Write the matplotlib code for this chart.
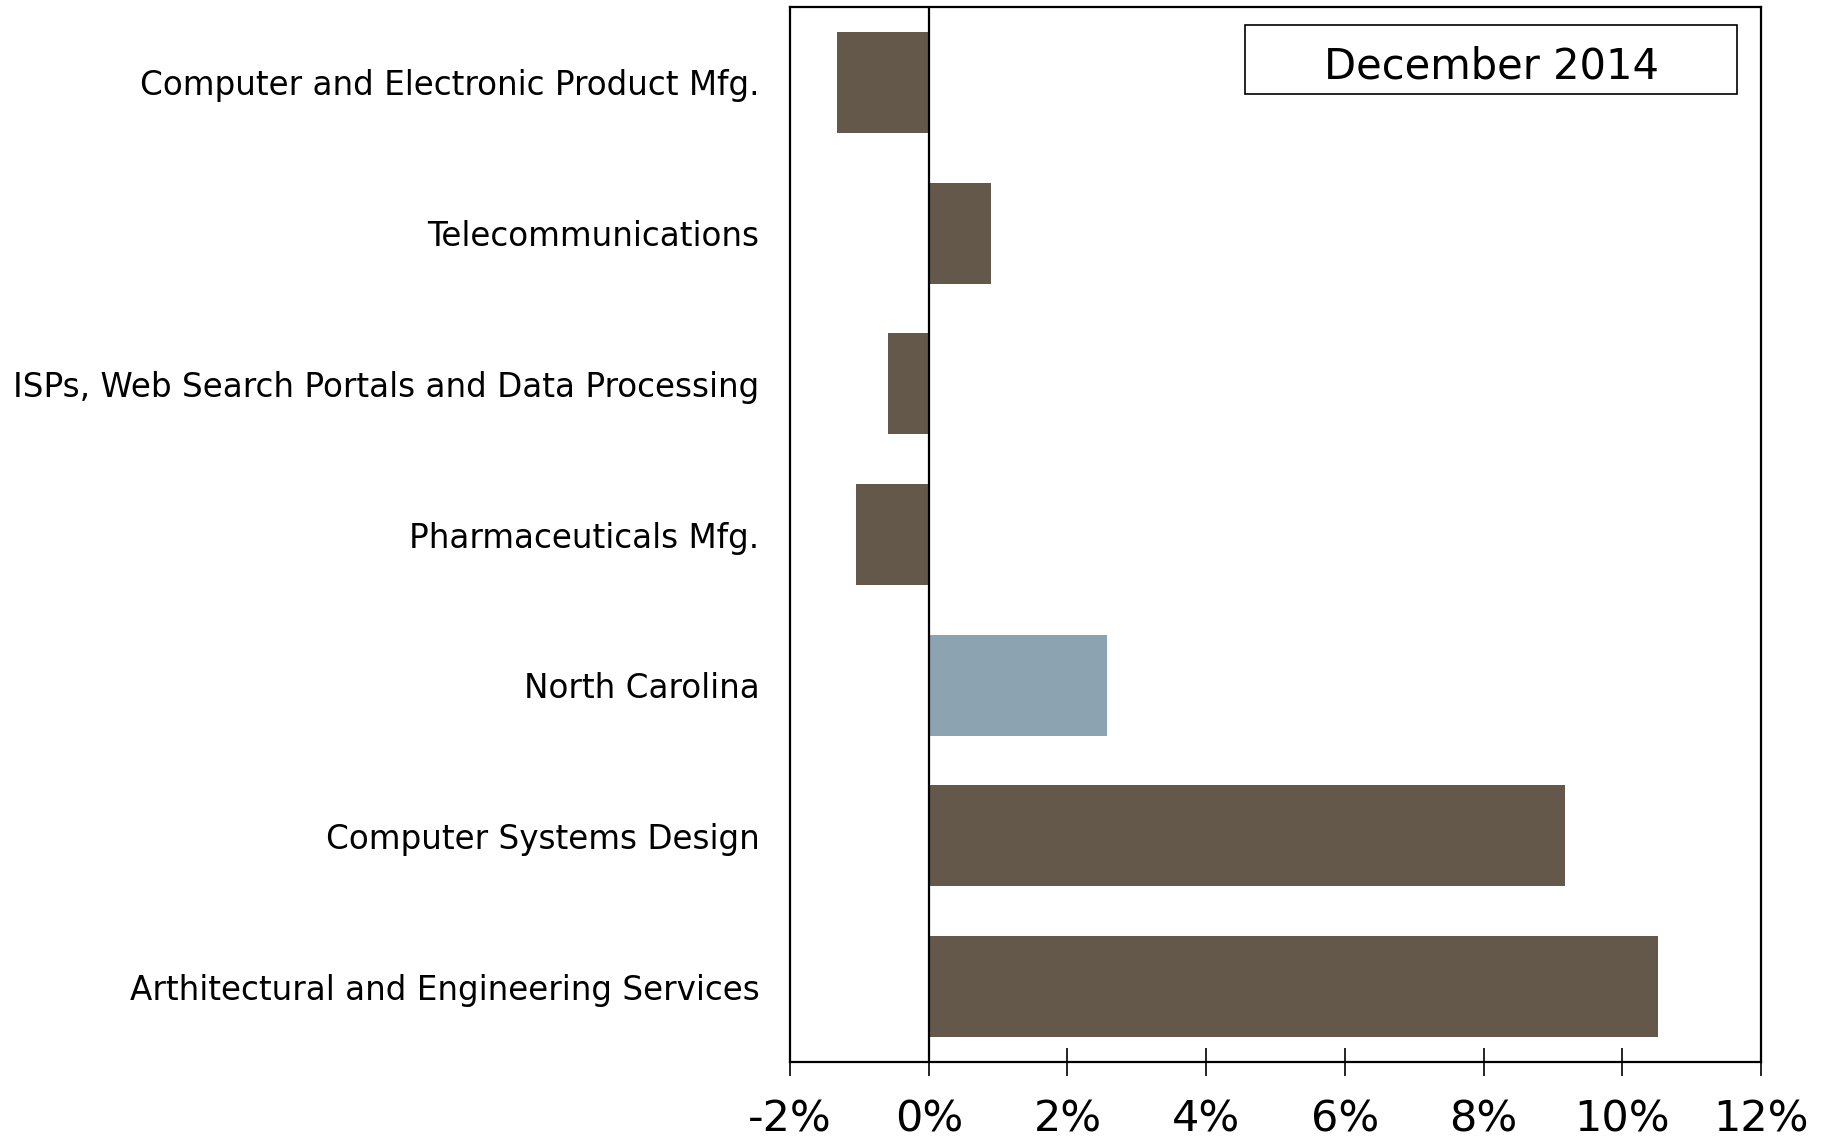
import matplotlib
matplotlib.use("Agg")
import matplotlib.pyplot as plt
from matplotlib.patches import Rectangle

categories = ["Computer and Electronic Product Mfg.",
              "Telecommunications",
              "ISPs, Web Search Portals and Data Processing",
              "Pharmaceuticals Mfg.",
              "North Carolina",
              "Computer Systems Design",
              "Arthitectural and Engineering Services"]
values = [-1.32, 0.90, -0.59, -1.05, 2.57, 9.17, 10.51]
colors = ["#64584b", "#64584b", "#64584b", "#64584b", "#8ca3b2", "#64584b", "#64584b"]
xticks = [-2, 0, 2, 4, 6, 8, 10, 12]
xtick_labels = ["-2%", "0%", "2%", "4%", "6%", "8%", "10%", "12%"]

fig = plt.figure(figsize=(18.31, 11.38), dpi=100)
ax = fig.add_axes([0.4315, 0.0668, 0.5303, 0.927])

pos = list(range(len(categories)))
ax.barh(pos, values, height=0.67, color=colors, zorder=2)
ax.axvline(0, color="black", lw=1.6, zorder=3)

ax.set_xlim(-2, 12)
ax.set_ylim(len(categories) - 0.5, -0.5)
ax.set_yticks(pos)
ax.set_yticklabels(categories, fontsize=23.5)
ax.tick_params(axis="y", length=0, pad=22)

ax.set_xticks(xticks)
ax.set_xticklabels(xtick_labels, fontsize=31)
ax.tick_params(axis="x", direction="inout", length=20, width=1.2, pad=16)

for s in ax.spines.values():
    s.set_linewidth(1.6)
    s.set_color("black")

# caption box in the upper right
ax.add_patch(Rectangle((0.4686, 0.9175), 0.5067, 0.0654, transform=ax.transAxes,
                       fill=False, edgecolor="black", lw=1.2, zorder=4))
ax.text(0.7219, 0.9327, "December 2014", transform=ax.transAxes, ha="center",
        va="baseline", fontsize=30, zorder=5)

fig.savefig("out.png", dpi=100)
